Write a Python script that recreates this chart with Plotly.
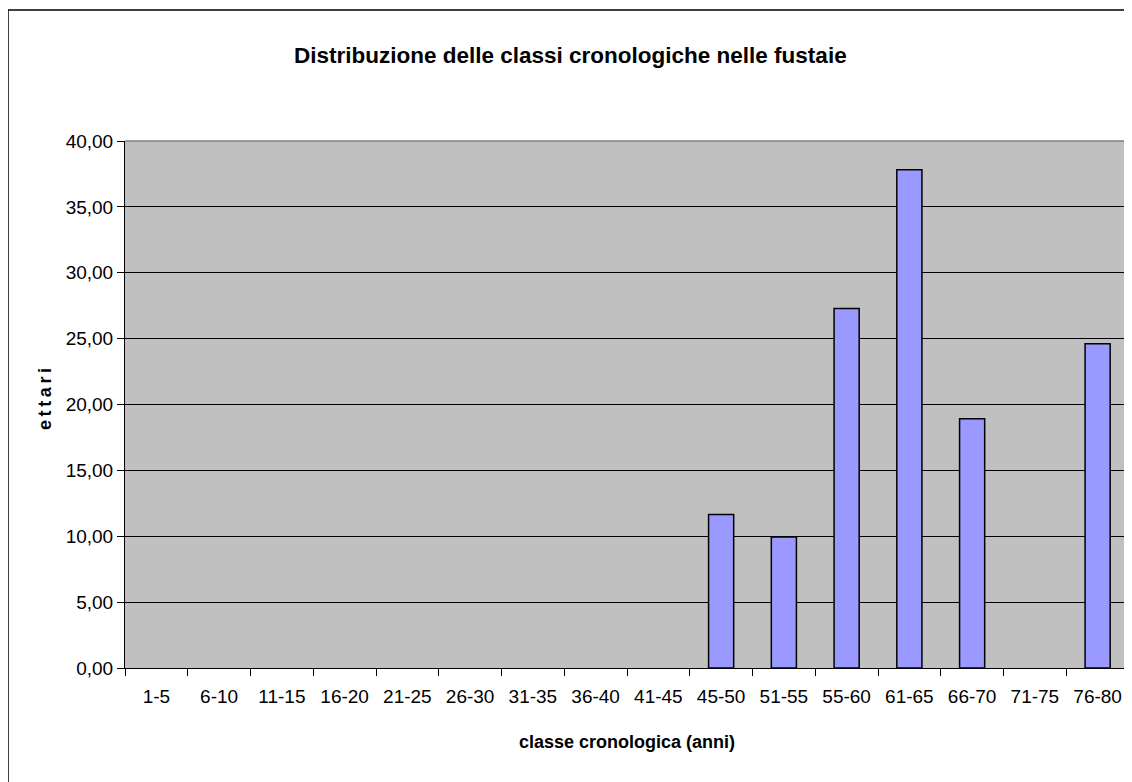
import plotly.graph_objects as go

# classi cronologiche (anni) e superficie in ettari
classi = ["1-5", "6-10", "11-15", "16-20", "21-25", "26-30", "31-35", "36-40",
          "41-45", "45-50", "51-55", "55-60", "61-65", "66-70", "71-75", "76-80"]
ettari = [0, 0, 0, 0, 0, 0, 0, 0, 0, 11.66, 9.94, 27.28, 37.82, 18.91, 0, 24.61]
y_ticks = [0, 5, 10, 15, 20, 25, 30, 35, 40]

# the page body has an 8px margin, so work in page pixels and shift
OFF = 8
W, H = 1132 - OFF, 782 - OFF
L, R, T, B = 125 - OFF, 3, 141 - OFF, 122 - OFF
pw, ph = W - L - R, H - T - B


def px_x(x):
    return (x - OFF - L) / pw


def px_y(y):
    return (H - B - (y - OFF)) / ph


fig = go.Figure()
fig.add_trace(go.Bar(
    x=classi,
    y=ettari,
    marker=dict(color="#9999FF",
                line=dict(color="#000000", width=[1.5 if v > 0 else 0 for v in ettari])),
    hovertemplate="<b>%{x}</b><br>%{y:.2f} ha<extra></extra>",
))

fig.update_layout(
    width=W, height=H,
    margin=dict(l=L, r=R, t=T, b=B, autoexpand=False),
    paper_bgcolor="white",
    plot_bgcolor="#C0C0C0",
    bargap=0.6,
    showlegend=False,
    separators=",.",
    font=dict(family="Liberation Sans, Arial, sans-serif", size=19, color="#000000"),
)

fig.update_xaxes(
    type="category",
    tickson="boundaries",
    ticks="outside", ticklen=7, tickcolor="#000000", tickwidth=1,
    showline=True, linecolor="#000000", linewidth=1,
    showgrid=False,
    ticklabelstandoff=11,
    tickfont=dict(size=19),
)
fig.update_yaxes(
    range=[0, 40],
    tickvals=y_ticks,
    tickformat=".2f",
    ticks="outside", ticklen=7, tickcolor="#000000", tickwidth=1,
    showline=True, linecolor="#000000", linewidth=1,
    showgrid=True, gridcolor="#000000", gridwidth=1,
    zeroline=False,
    tickfont=dict(size=19),
)

# bordo area del grafico (alto e destra grigi)
fig.add_shape(type="line", xref="paper", yref="paper", x0=0, x1=1, y0=1, y1=1,
              line=dict(color="#808080", width=1.5))
fig.add_shape(type="line", xref="paper", yref="paper", x0=1, x1=1, y0=0, y1=1,
              line=dict(color="#808080", width=1.5))

# cornice esterna
fig.add_shape(type="rect", xref="paper", yref="paper",
              x0=px_x(7 + 1), x1=px_x(1132 + 10), y0=px_y(782 + 10), y1=px_y(10),
              line=dict(color="#000000", width=1.5))

fig.add_annotation(
    text="<b>Distribuzione delle classi cronologiche nelle fustaie</b>",
    xref="paper", yref="paper", x=px_x(570), y=px_y(55),
    xanchor="center", yanchor="middle", showarrow=False,
    font=dict(size=22.5),
)
fig.add_annotation(
    text="<b>classe cronologica (anni)</b>",
    xref="paper", yref="paper", x=px_x(627), y=px_y(742),
    xanchor="center", yanchor="middle", showarrow=False,
    font=dict(size=18),
)
fig.add_annotation(
    text="<b>e\u2009t\u2009t\u2009a\u2009r\u2009i</b>",
    xref="paper", yref="paper", x=px_x(45), y=px_y(399),
    xanchor="center", yanchor="middle", showarrow=False, textangle=-90,
    font=dict(size=18),
)

fig.write_html("out.html")
